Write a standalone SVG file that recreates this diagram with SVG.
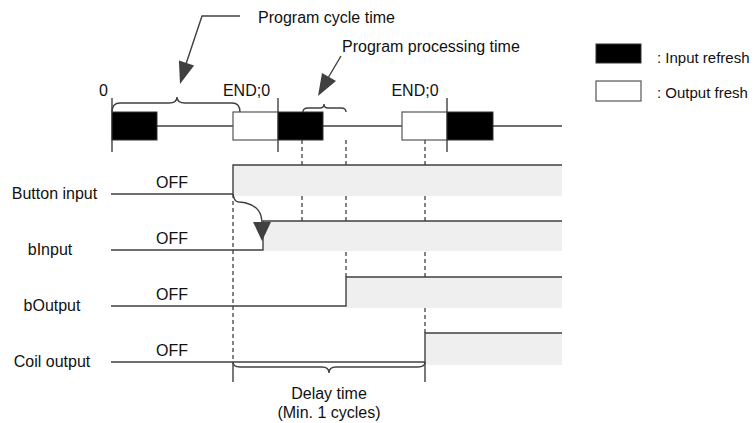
<svg xmlns="http://www.w3.org/2000/svg" width="756" height="423" viewBox="0 0 756 423">
<style>
text{font-family:"Liberation Sans",Arial,sans-serif;font-size:16px;fill:#111}
text.lg{font-size:15px}
.ln{stroke:#404040;stroke-width:1.4;fill:none}
.ds{stroke:#404040;stroke-width:1.3;stroke-dasharray:4,3;fill:none}
.blk{fill:#000;stroke:#333;stroke-width:1}
.wht{fill:#fff;stroke:#555;stroke-width:1.2}
.sh{fill:#efefef}
.ah{fill:#404040}
</style>
<rect width="756" height="423" fill="#fff"/>
<g id="dashes">
<path class="ds" d="M233,194V362M302,140V221M346,140V277M425,140V333"/>
</g>
<g id="shading">
<rect class="sh" x="233" y="165" width="329" height="31"/>
<rect class="sh" x="263" y="221" width="299" height="30"/>
<rect class="sh" x="346" y="277" width="216" height="31"/>
<rect class="sh" x="425" y="333" width="137" height="32"/>
</g>
<g id="timeline">
<path class="ln" d="M157,126H233M323,126H402M493,126H562"/>
<path class="ln" d="M112,98V152M278,98V152M447,98V152"/>
<rect class="blk" x="112" y="112" width="45" height="28"/>
<rect class="wht" x="233" y="112" width="45" height="28"/>
<rect class="blk" x="278" y="112" width="45" height="28"/>
<rect class="wht" x="402" y="112" width="45" height="28"/>
<rect class="blk" x="447" y="112" width="46" height="28"/>
<text x="103.5" y="96" text-anchor="middle">0</text>
<text x="246.5" y="96" text-anchor="middle">END;0</text>
<text x="415" y="96" text-anchor="middle">END;0</text>
</g>
<g id="cycle-brace">
<path class="ln" d="M112,112Q112,103 120,103H169Q177,103 177,97Q177,103 185,103H232Q240,103 240,112"/>
<path class="ln" d="M240,16H202L186,64"/>
<polygon class="ah" points="180,84 178.9,60.6 194.1,65.4"/>
<text x="258" y="23">Program cycle time</text>
</g>
<g id="proc-brace">
<path class="ln" d="M303,112Q303,108 308,108H320Q324,108 324,104Q324,108 328,108H341Q346,108 346,112"/>
<path class="ln" d="M341,56L328,78"/>
<polygon class="ah" points="318,96 322,73 336,81"/>
<text x="342" y="52">Program processing time</text>
</g>
<g id="legend">
<rect class="blk" x="596" y="44" width="45" height="19"/>
<rect class="wht" x="596" y="81" width="45" height="20"/>
<text class="lg" x="657" y="63">: Input refresh</text>
<text class="lg" x="657" y="98">: Output fresh</text>
</g>
<g id="button-input">
<text x="54.5" y="199" text-anchor="middle">Button input</text>
<text x="172" y="188" text-anchor="middle">OFF</text>
<path class="ln" d="M111,194H233V165H562"/>
</g>
<g id="binput">
<text x="50" y="255" text-anchor="middle">bInput</text>
<text x="172" y="244" text-anchor="middle">OFF</text>
<path class="ln" d="M111,250H263V221H562"/>
</g>
<g id="boutput">
<text x="52" y="311" text-anchor="middle">bOutput</text>
<text x="172" y="300" text-anchor="middle">OFF</text>
<path class="ln" d="M111,306H346V277H562"/>
</g>
<g id="coil-output">
<text x="52" y="367" text-anchor="middle">Coil output</text>
<text x="172" y="356" text-anchor="middle">OFF</text>
<path class="ln" d="M111,362H425V333H562"/>
</g>
<g id="connectors">
<path class="ln" d="M233,194C235,205 239,201 246,203C257,206 262,212 262,224"/>
<polygon class="ah" points="253,222 271,222 262,241"/>
</g>
<g id="delay">
<path class="ln" d="M233,362V382M425,362V382"/>
<path class="ln" d="M233,362Q233,367 240,367H322Q329,367 329,373Q329,367 336,367H418Q425,367 425,362"/>
<text x="329" y="399" text-anchor="middle">Delay time</text>
<text x="329" y="418" text-anchor="middle">(Min. 1 cycles)</text>
</g>
</svg>
